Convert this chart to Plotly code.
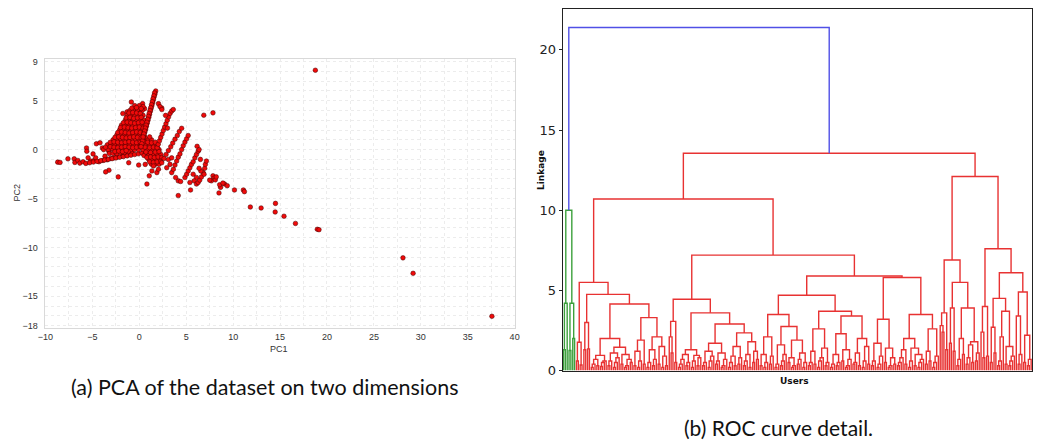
import re
import plotly.graph_objects as go

# ---------------- (a) PCA projection: (PC1, PC2) per user ----------------
tail_pts = [
    (-8.70, -1.28), (-8.45, -1.31), (-7.61, -0.94), (-6.94, -0.94), (-6.87, -1.31),
    (-6.55, -1.11), (-6.34, -1.38), (-5.99, -1.24), (-5.70, -1.41), (-5.46, -0.84),
    (-5.18, -1.17), (-4.93, -0.44), (-4.82, -1.11), (-4.65, -0.84), (-4.30, -1.24),
    (-3.87, -1.11), (-3.66, -0.67), (-3.42, -1.04), (-3.06, -0.91), (-2.71, -0.84),
    (-2.36, -0.74), (-1.83, -0.67), (-1.48, -0.57), (-1.20, -0.44), (-0.77, -0.34),
    (-5.30, -1.34), (-4.90, -1.27), (-4.50, -1.20), (-4.10, -1.13), (-3.70, -1.06),
    (-3.30, -0.99), (-2.90, -0.92), (-2.50, -0.85), (-2.10, -0.78), (-1.70, -0.71),
    (-1.30, -0.64), (-0.90, -0.57), (-0.50, -0.50), (-0.10, -0.43), (0.30, -0.36),
    (0.70, -0.29), (1.10, -0.22),
]
upper_left_pts = [
    (-5.63, 0.17), (-5.60, -0.17), (-4.58, 0.60), (-4.19, 0.70), (-3.94, 0.17),
    (-3.24, -0.17), (-2.96, 0.17), (-2.54, 0.50), (-2.18, 0.84), (-2.01, 1.78),
    (-1.90, 2.35), (-1.76, 3.69), (-1.41, 1.17), (-1.30, 3.86), (-1.06, 2.85),
    (-0.85, 4.87), (-0.60, 1.85), (-0.42, 4.19), (-0.07, 4.03), (0.35, 4.70),
    (0.56, 4.19), (2.04, 4.70), (2.39, 4.26),
]
core_pts = [
    (-0.5, 4.5), (0.0, 4.5), (0.4, 4.4),
    (-1.0, 4.0), (-0.6, 4.0), (-0.2, 4.1), (0.3, 4.0),
    (-1.3, 3.5), (-0.9, 3.5), (-0.5, 3.6), (-0.1, 3.5), (0.4, 3.5),
    (-1.5, 3.0), (-1.1, 3.0), (-0.7, 3.1), (-0.3, 3.0), (0.1, 3.0), (0.5, 3.0),
    (-1.9, 2.5), (-1.5, 2.5), (-1.1, 2.6), (-0.7, 2.5), (-0.3, 2.5), (0.1, 2.5), (0.5, 2.4),
    (-2.1, 2.0), (-1.7, 2.0), (-1.3, 2.1), (-0.9, 2.0), (-0.5, 2.0), (-0.1, 2.0), (0.3, 2.0),
    (0.6, 2.0),
    (-2.4, 1.5), (-2.0, 1.5), (-1.6, 1.6), (-1.2, 1.5), (-0.8, 1.5), (-0.4, 1.5), (0.0, 1.5),
    (0.4, 1.5),
    (-2.8, 1.0), (-2.4, 1.0), (-2.0, 1.1), (-1.6, 1.0), (-1.2, 1.0), (-0.8, 1.0), (-0.4, 1.0),
    (0.0, 1.0), (0.4, 1.0), (0.9, 1.0), (1.3, 1.0),
    (-3.4, 0.5), (-3.0, 0.5), (-2.6, 0.6), (-2.2, 0.5), (-1.8, 0.5), (-1.4, 0.5), (-1.0, 0.5),
    (-0.6, 0.5), (-0.2, 0.5), (0.2, 0.5), (0.7, 0.5), (1.1, 0.5), (1.5, 0.5),
    (-3.8, 0.0), (-3.3, 0.0), (-2.9, 0.1), (-2.5, 0.0), (-2.1, 0.0), (-1.7, 0.0), (-1.3, 0.0),
    (-0.9, 0.0), (-0.5, 0.0), (-0.1, 0.0), (0.4, 0.0), (0.9, 0.0), (1.3, 0.0), (1.7, 0.0),
    (2.1, 0.0),
    (-3.2, -0.4), (-2.8, -0.4), (-2.4, -0.4), (-2.0, -0.3), (-1.6, -0.3), (-1.2, -0.2),
    (0.5, -0.6), (1.0, -0.6), (1.5, -0.5), (1.9, -0.5), (2.3, -0.5),
    (1.0, -1.0), (1.4, -1.0), (1.8, -1.0), (2.2, -1.0),
    (1.3, -1.5), (1.7, -1.5), (2.1, -1.5),
]
core_fill_pts = [
    (-0.8, 4.25), (-0.3, 4.3), (0.2, 4.2),
    (-1.1, 3.75), (-0.7, 3.8), (-0.3, 3.75), (0.1, 3.7),
    (-1.4, 3.25), (-1.0, 3.3), (-0.6, 3.2), (-0.2, 3.25), (0.2, 3.3),
    (-1.7, 2.75), (-1.3, 2.8), (-0.9, 2.75), (-0.5, 2.7), (-0.1, 2.75), (0.3, 2.8),
    (-2.0, 2.25), (-1.6, 2.3), (-1.2, 2.25), (-0.8, 2.2), (-0.4, 2.25), (0.0, 2.3), (0.4, 2.2),
    (-2.3, 1.75), (-1.9, 1.8), (-1.5, 1.75), (-1.1, 1.7), (-0.7, 1.75), (-0.3, 1.8),
    (0.1, 1.75), (0.5, 1.7),
    (-2.6, 1.25), (-2.2, 1.3), (-1.8, 1.25), (-1.4, 1.2), (-1.0, 1.25), (-0.6, 1.3),
    (-0.2, 1.25), (0.2, 1.2), (0.6, 1.25), (1.1, 1.3),
    (-3.1, 0.75), (-2.7, 0.8), (-2.3, 0.75), (-1.9, 0.7), (-1.5, 0.75), (-1.1, 0.8),
    (-0.7, 0.75), (-0.3, 0.7), (0.1, 0.75), (0.5, 0.8), (0.9, 0.75), (1.3, 0.7), (1.7, 0.75),
    (-3.6, 0.25), (-3.1, 0.3), (-2.7, 0.25), (-2.3, 0.2), (-1.9, 0.25), (-1.5, 0.3),
    (-1.1, 0.25), (-0.7, 0.2), (-0.3, 0.25), (0.1, 0.3), (0.6, 0.25), (1.1, 0.2), (1.5, 0.25),
    (1.9, 0.3),
    (-2.6, -0.2), (-2.2, -0.15), (-1.8, -0.2), (-1.4, -0.1), (0.7, -0.25), (1.2, -0.3),
    (1.7, -0.25), (2.1, -0.2),
    (0.8, -0.8), (1.2, -0.75), (1.6, -0.8), (2.0, -0.75), (2.4, -0.8),
    (1.1, -1.25), (1.5, -1.3), (1.9, -1.25), (2.3, -1.2),
]
spike_pts = [
    (1.75, 6.0), (1.67, 5.7), (1.58, 5.4), (1.50, 5.1), (1.42, 4.8), (1.34, 4.5),
    (1.25, 4.2), (1.17, 3.9), (1.09, 3.6), (1.01, 3.3), (0.92, 3.0), (0.84, 2.7),
    (0.76, 2.4), (0.68, 2.1), (0.59, 1.8), (0.51, 1.5), (0.43, 1.2), (0.35, 0.9),
    (0.26, 0.6), (0.18, 0.3),
    (1.62, 5.8), (1.55, 5.5), (1.46, 5.2), (1.38, 4.9), (1.30, 4.6), (1.22, 4.3),
    (1.14, 4.0), (1.05, 3.7), (0.97, 3.4), (0.89, 3.1), (0.80, 2.8), (0.72, 2.5),
    (0.64, 2.2), (0.56, 1.9), (0.48, 1.6), (0.40, 1.3),
]
streak_pts = [
    # second arm
    (1.90, 0.20), (2.02, 0.55), (2.15, 0.90), (2.28, 1.25), (2.42, 1.60), (2.56, 1.95),
    (2.70, 2.30), (2.84, 2.65), (2.98, 3.00), (3.12, 3.35), (3.28, 3.70), (3.45, 3.95),
    (3.62, 4.10), (2.20, 4.40), (2.40, 4.10), (2.80, 3.50), (3.00, 2.20),
    # third arm
    (2.39, -1.34), (2.64, -0.91), (2.85, -0.50), (3.10, -0.10), (3.35, 0.30), (3.56, 0.67),
    (3.80, 1.07), (4.05, 1.44), (4.26, 1.85), (4.51, 2.18), (3.10, -1.01), (3.27, -1.51),
    (2.92, -1.85), (3.45, -0.84),
    # fourth arm
    (3.45, -2.35), (3.63, -2.01), (3.80, -1.58), (3.98, -1.17), (4.15, -0.77), (4.33, -0.44),
    (4.51, 0.00), (4.68, 0.40), (4.86, 0.77), (5.04, 1.11), (5.21, 1.44), (4.15, -3.19),
    (3.87, -2.85), (4.15, -4.70), (4.40, -3.26),
    # fifth arm
    (4.86, -2.85), (5.04, -2.52), (5.21, -2.18), (5.39, -1.85), (5.56, -1.51), (5.74, -1.24),
    (5.92, -0.84), (6.09, -0.50), (6.27, -0.17), (5.46, -4.13), (5.74, -2.52), (6.09, -2.85),
    (5.85, -3.19), (5.39, -3.36),
    # sixth arm
    (6.09, -3.52), (6.27, -3.36), (6.44, -3.12), (6.62, -2.79), (6.80, -2.35), (6.97, -1.91),
    (7.04, -1.51), (7.15, -1.17), (6.90, -2.52), (6.55, -2.18), (6.37, -1.91), (6.16, 0.34),
    (6.37, 0.00), (6.51, -1.00), (6.87, 3.52), (7.85, 3.76),
]
lower_pts = [
    (0.81, -3.52), (1.06, -2.68), (1.34, -2.18), (1.87, -2.35), (2.04, -2.01), (1.51, -1.68),
    (0.63, -1.51), (-0.07, -1.58), (-1.13, -1.34), (-2.25, -2.79), (-3.24, -2.11),
    (-3.59, -2.28),
]
right_pts = [
    (7.85, -2.68), (7.96, -2.92), (7.68, -3.19), (8.10, -3.09), (7.50, -3.12), (8.20, -2.79),
    (8.49, -4.43), (8.66, -3.86), (8.56, -3.59), (9.08, -3.52), (9.37, -3.69), (8.91, -3.42),
    (10.14, -4.13), (11.09, -4.13), (11.20, -4.30), (11.83, -5.87),
]
far_pts = [
    (12.98, -5.97), (14.51, -5.50), (14.48, -6.38), (15.42, -6.81), (16.64, -7.55),
    (18.97, -8.15), (19.15, -8.19), (18.76, 8.12), (28.10, -11.07), (29.18, -12.65),
    (37.58, -17.05),
]

x_ticks = [-10, -5, 0, 5, 10, 15, 20, 25, 30, 35, 40]
y_ticks = [9, 5, 0, -5, -10, -15, -18]

# ---------------- (b) hierarchical clustering of users ----------------
# "." is a user, "(A B)h" merges A and B at linkage h,
# "[h1 h2 ...]" is a run of users joined one after another at h1, h2, ...
green_tree = "(((. .)1.3 .)4.2 ((. .)1.25 (. .)2.0)4.2)10.0"

c1 = "([0.6] [0.35])1.77"
n3_0 = "([1.3] [1.35])3.0"
l095 = "(([0.2 0.4] [0.3])0.7 ([0.25 0.5] .)0.6)0.95"
r145 = "(([0.3 0.6] [0.2 0.5 0.8])1.1 ([0.4] ([0.2 0.3] [0.5])0.7)1.0)1.45"
n1_9 = "(([0.3] [0.2 0.6])1.2 [0.4])1.9"
n2_1 = "(([0.2 0.5] [0.3 0.7])1.3 ([0.4] ([0.2] [0.3])0.9)1.5)2.1"
n3_07 = "((. [1.1])2.1 [0.5])3.07"
n1_3 = "(([0.2 0.4 0.7] [0.3 0.5])1.0 ([0.2 0.6] [0.3 0.8])0.95)1.3"
n1_7 = "(([0.3 0.5] [0.2 0.6 0.9])1.2 ([0.4 0.6] [0.2 0.3 0.7])1.1)1.7"
n2_35 = "((([0.2 0.5] [0.3])0.9 [0.4 0.8])1.5 (([0.3 0.6] [0.2])1.0 ([0.5] [0.7])1.2)1.8)2.35"
n2_1b = "(([0.3] [0.2 0.5])1.0 [0.4 0.9])2.1"
n2_75 = "(([0.2 0.4] [0.3 0.6 1.0])1.6 (([0.5] [0.2 0.3])0.8 ([0.4 0.7] [0.2 0.5])1.1)1.9)2.75"
n2_6 = "(([0.3 0.5] [0.4])1.2 ([0.2 0.6 0.8] [0.3 0.5])1.4)2.6"
n3_4 = ("((([0.2 0.4] [0.3 0.5])1.0 ([0.6] [0.2 0.3 0.7])1.3)2.3 "
        "(([0.4 0.5] [0.3])1.1 ([0.2 0.6] [0.4])1.5)2.0)3.4")
n3_2 = "(([0.3 0.6] [0.2 0.4 0.9])1.7 ([0.5] ([0.2 0.3] [0.4])0.8)1.4)3.2"
n2_0b = "(([0.3 0.5 0.8] [0.4])1.3 ([0.2 0.6] ([0.3] [0.2 0.5 0.7])1.0)1.4)2.0"
n2_6b = "(([0.4] [0.6])1.2 [0.2 0.5 0.9])2.6"
n3_6b = "((. [2.4])2.8 [1.3])3.6"
n3_9a = "([1.7] [1.2])3.9"
n3_9b = "(([0.3 0.7] [1.0])2.0 (([0.4 0.8] [0.5])1.6 [0.6 1.1])1.8)3.9"
n4_0 = "((. [0.8])2.4 [0.9])4.0"
n2_7 = "([0.5] [1.1])2.7"
n3_7b = "(([0.3 0.6] .)2.1 ([0.4] [0.3 0.6 0.9])1.5)3.7"
n4_9 = "((. [0.4 1.0])3.4 ([0.5] [0.3 0.7])2.2)4.9"

n5_5 = f"({c1} ({n3_0} (({l095} {r145})2.0 ({n1_9} {n2_1})3.3)4.15)4.75)5.5"
n4_45 = f"({n3_07} ({n1_3} ({n1_7} {n2_35})2.9)3.6)4.45"
n4_7 = f"(({n2_1b} {n2_75})3.5 ({n2_6} {n3_4})3.7)4.7"
n5_8 = f"({n3_2} ({n2_0b} {n2_6b})3.5)5.8"
n10_7 = f"({n5_5} ({n4_45} ({n4_7} {n5_8})5.9)7.2)10.7"
n12_1 = f"(({n3_6b} ({n3_9a} {n3_9b})5.5)6.9 ({n4_0} (({n2_7} {n3_7b})4.5 {n4_9})6.1)7.6)12.1"
red_tree = f"({n10_7} {n12_1})13.55"
root_height = 21.4

# ---------------- build the dendrogram geometry ----------------
def parse(text):
    tokens = re.findall(r"\(|\)[0-9.]+|\.|\[[^\]]*\]", text)
    stack = []
    for tok in tokens:
        if tok == "(":
            stack.append("(")
        elif tok == ".":
            stack.append(None)
        elif tok.startswith("["):
            node = None
            for h in tok[1:-1].split():
                node = (float(h), node, None)
            stack.append(node)
        else:
            h = float(tok[1:])
            right = stack.pop()
            left = stack.pop()
            stack.pop()
            stack.append((h, left, right))
    return stack[0]


green = parse(green_tree)
red = parse(red_tree)

segs = {"blue": ([], []), "green": ([], []), "red": ([], [])}
counter = [0]


def place(node, colour):
    if node is None:
        x = 5 + 10 * counter[0]
        counter[0] += 1
        return x, 0.0
    h, left, right = node
    xl, hl = place(left, colour)
    xr, hr = place(right, colour)
    xs, ys = segs[colour]
    xs.extend([xl, xl, xr, xr, None])
    ys.extend([hl, h, h, hr, None])
    return (xl + xr) / 2, h


xg, hg = place(green, "green")
xr_, hr_ = place(red, "red")
segs["blue"][0].extend([xg, xg, xr_, xr_])
segs["blue"][1].extend([hg, root_height, root_height, hr_])
n_users = counter[0]

# ---------------- figure ----------------
W, H = 1044, 447


def px(x):
    return x / W


def py(y):
    return 1 - y / H


pts = (tail_pts + upper_left_pts + core_pts + core_fill_pts + spike_pts + streak_pts
       + lower_pts + right_pts + far_pts)
fig = go.Figure()
fig.add_trace(go.Scatter(
    x=[p[0] for p in pts], y=[p[1] for p in pts], mode="markers",
    marker=dict(size=4.6, color="#f00a0a", line=dict(width=0.5, color="#400000")),
    xaxis="x", yaxis="y", hoverinfo="skip", showlegend=False))

line_cols = {"green": "rgb(60,160,60)", "red": "rgb(232,50,50)", "blue": "rgb(80,80,230)"}
for name in ["green", "red", "blue"]:
    xs, ys = segs[name]
    fig.add_trace(go.Scatter(
        x=xs, y=ys, mode="lines", line=dict(color=line_cols[name], width=1.4),
        xaxis="x2", yaxis="y2", hoverinfo="skip", showlegend=False))

grid_col = "#ececec"
tick_font = dict(family="Liberation Sans, Arial", size=9, color="#333")
dendro_y = [0, 22.56]

fig.update_layout(
    width=W, height=H, margin=dict(l=0, r=0, t=0, b=0),
    paper_bgcolor="white", plot_bgcolor="white", showlegend=False,
    xaxis=dict(domain=[px(38), px(514)], range=[-10.1, 40.05], tickvals=x_ticks,
               ticks="", tickfont=tick_font, ticklabelstandoff=1,
               showgrid=True, gridcolor=grid_col, griddash="dot", gridwidth=1,
               minor=dict(dtick=2.5, tick0=0, showgrid=True, gridcolor=grid_col,
                          griddash="dot", ticks=""),
               showline=True, mirror=True, linecolor="#d9d9d9", linewidth=1,
               zeroline=False, anchor="y"),
    yaxis=dict(domain=[py(333), py(58)], range=[-18.2, 9.3], tickvals=y_ticks,
               ticks="", tickfont=tick_font, ticklabelstandoff=4,
               showgrid=True, gridcolor=grid_col, griddash="dot", gridwidth=1,
               minor=dict(dtick=1, tick0=0, showgrid=True, gridcolor=grid_col,
                          griddash="dot", ticks=""),
               showline=True, mirror=True, linecolor="#d9d9d9", linewidth=1,
               zeroline=False, anchor="x"),
    xaxis2=dict(domain=[px(562), px(1037)], range=[0, 10 * n_users], showticklabels=False,
                ticks="", showgrid=False, zeroline=False, showline=True, mirror=True,
                linecolor="#222", linewidth=1, anchor="y2"),
    yaxis2=dict(domain=[py(377), py(7)], range=dendro_y, tickvals=[0, 5, 10, 15, 20],
                ticks="outside", ticklen=3, tickcolor="#222",
                tickfont=dict(family="DejaVu Sans", size=13, color="#222"),
                showgrid=False, zeroline=False, showline=True, mirror=True,
                linecolor="#222", linewidth=1, anchor="x2"),
    yaxis3=dict(domain=[py(377), py(7)], range=dendro_y, tickvals=[0, 5, 10, 15, 20],
                overlaying="y2", side="right", anchor="x2", ticks="inside", ticklen=4,
                tickcolor="#444", showticklabels=False, showgrid=False, zeroline=False,
                showline=False),
)

annos = [
    dict(text="PC1", x=px(275), y=py(355), font=dict(family="Liberation Sans, Arial", size=9, color="#333")),
    dict(text="PC2", x=px(10), y=py(195), textangle=-90,
         font=dict(family="Liberation Sans, Arial", size=9, color="#333")),
    dict(text="<b>Linkage</b>", x=px(540), y=py(172), textangle=-90,
         font=dict(family="DejaVu Sans", size=9, color="#111")),
    dict(text="<b>Users</b>", x=px(797), y=py(388),
         font=dict(family="DejaVu Sans", size=9, color="#111")),
    dict(text="(a) PCA of the dataset on two dimensions", x=px(260), y=py(394),
         font=dict(family="Lato", size=21.5, color="#111")),
    dict(text="(b) ROC curve detail.", x=px(780), y=py(435),
         font=dict(family="Lato", size=21, color="#111")),
]
for a in annos:
    a.update(xref="paper", yref="paper", showarrow=False, xanchor="center", yanchor="middle")
fig.update_layout(annotations=annos)

fig.write_html("out.html")
